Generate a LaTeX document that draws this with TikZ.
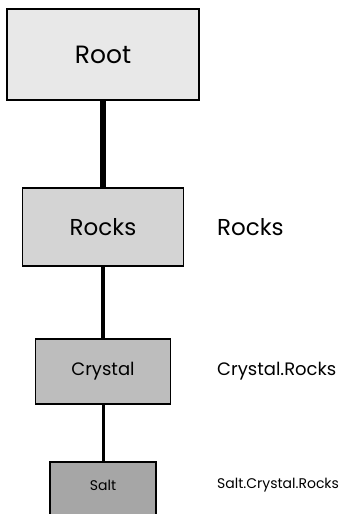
\documentclass[tikz,border=0pt]{standalone}
\usepackage{fontspec}
\setmainfont{Poppins}
\usetikzlibrary{positioning}

\begin{document}
\begin{tikzpicture}[
        x=1pt, y=1pt,
        box/.style={rectangle, draw, line width=1.8pt, inner sep=0pt, outer sep=0pt},
        link/.style={line width=#1},
        pathlbl/.style={anchor=west, inner sep=0pt}
    ]
    \useasboundingbox (0,0) rectangle (343,-514);

    % --- the nested hierarchy ---
    \node (root) [box, fill=black!9, minimum width=192pt, minimum height=91pt,
        font=\fontsize{25}{30}\selectfont] at (103,-54.5) {Root};
    \node (rocks) [box, fill=black!17, minimum width=161pt, minimum height=78pt,
        below=88pt of root, font=\fontsize{23}{28}\selectfont] {Rocks};
    \node (crystal) [box, fill=black!26, minimum width=135pt, minimum height=65pt,
        below=73pt of rocks, font=\fontsize{18}{22}\selectfont] {Crystal};
    % bottom edge runs off the page
    \node (salt) [box, fill=black!35, minimum width=106pt, minimum height=62pt,
        below=58pt of crystal, font=\fontsize{14}{17}\selectfont] {};
    \node (salttxt) [font=\fontsize{14}{17}\selectfont] at ([yshift=-23pt]salt.north) {Salt};

    \draw[link=5.5pt] (root) -- (rocks);
    \draw[link=4pt] (rocks) -- (crystal);
    \draw[link=3pt] (crystal) -- (salt);

    % --- full names on the right ---
    \coordinate (labelx) at (217,0);
    \node (rockslbl) [pathlbl, font=\fontsize{23}{28}\selectfont] at (rocks.center -| labelx) {Rocks};
    \node (crystallbl) [pathlbl, font=\fontsize{18}{22}\selectfont] at (crystal.center -| labelx) {Crystal.Rocks};
    \node (saltlbl) [pathlbl, font=\fontsize{14}{17}\selectfont] at (salttxt.center -| labelx) {Salt.Crystal.Rocks};

\end{tikzpicture}
\end{document}
